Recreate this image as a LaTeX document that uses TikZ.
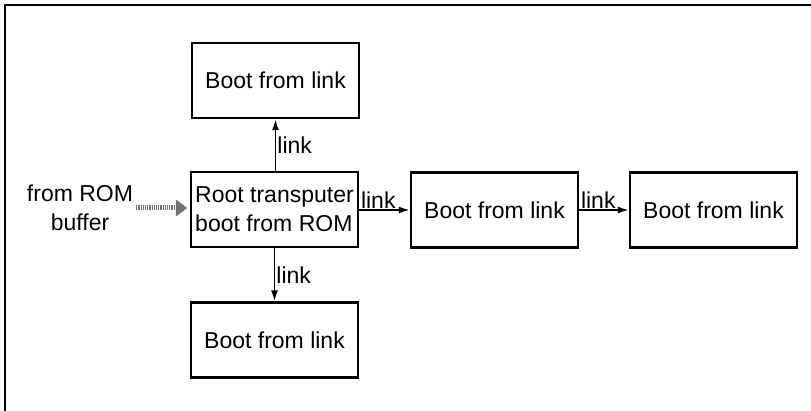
\documentclass[tikz,border=0pt]{standalone}
\usepackage{fontspec}
\setmainfont{Liberation Sans}
\usetikzlibrary{arrows.meta}

\begin{document}
\begin{tikzpicture}[
    x = 1pt,
    y = -1pt,
    bootbox/.style = {draw, line width=2.2pt, minimum width=167pt,
      minimum height=75pt, inner sep=0pt},
    linkarrow/.style = {line width=1.8pt, -{Latex[length=11pt,width=7pt]}},
    linklabel/.style = {inner sep=1pt},
    every node/.style = {font=\fontsize{23}{29}\selectfont},
    ]
    \useasboundingbox (0,0) rectangle (811,411);
    % frame
    \draw[line width=2.5pt] (5,411) -- (5,5) -- (811,5);
    % boxes
    \node[bootbox] (top) at (275.5,80.5) {Boot from link};
    \node[bootbox, align=left] (root) at (274.5,209.5)
      {Root transputer\\boot from ROM};
    \node[bootbox] (bottom) at (274.5,340) {Boot from link};
    \node[bootbox] (mid) at (494.5,210) {Boot from link};
    \node[bootbox] (right) at (713.5,210) {Boot from link};
    % source
    \node[align=center, inner sep=3pt] (rom) at (80,208) {from ROM\\buffer};
    \draw[line width=5pt, black!55, dash pattern=on 1.2pt off 1pt,
      -{Triangle[length=11pt,width=17pt,fill=black!55,line width=0.5pt]},
      shorten >= 3pt]
    (rom.east) -- (rom.east -| root.west);
    % links
    \draw[linkarrow] (root.north -| top.south) -- (top.south)
      node[midway, right, linklabel] {link};
    \draw[linkarrow] (root.south) -- (bottom.north)
      node[midway, right, linklabel] {link};
    \draw[linkarrow] (root.east |- mid.west) -- (mid.west)
      node[pos=0, above right, linklabel] {link};
    \draw[linkarrow] (mid.east) -- (right.west)
      node[pos=0, above right, linklabel] {link};
  \end{tikzpicture}
\end{document}
